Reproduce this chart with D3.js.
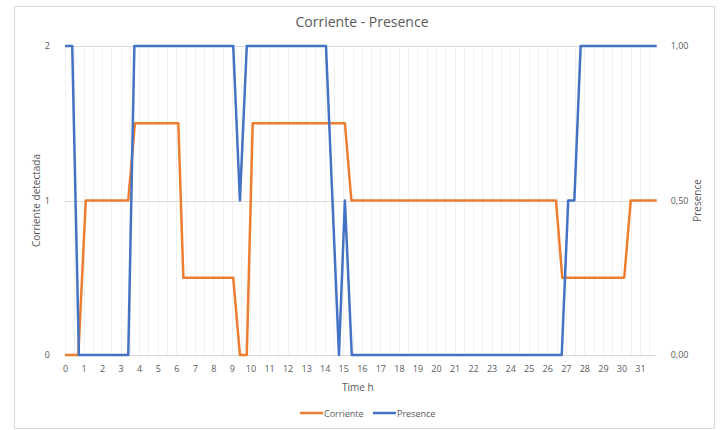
<!DOCTYPE html>
<html>
<head>
<meta charset="utf-8">
<script src="https://cdn.jsdelivr.net/npm/d3@7"></script>
<style>
  html, body { margin: 0; padding: 0; background: #fff; }
  svg { display: block; font-family: "Open Sans", "Liberation Sans", sans-serif; }
</style>
</head>
<body>
<svg id="chart" width="725" height="430"></svg>
<script>
// Corriente detectada (left axis, 0–2) sampled over time in hours
const corrienteTime   = [0, 0.72, 1.12, 3.41, 3.77, 6.11, 6.38, 9.07, 9.43, 9.8, 10.12, 15.09, 15.44, 26.47, 26.81, 30.15, 30.5, 31.9];
const corrienteValues = [0, 0,    1,    1,    1.5,  1.5,  0.5,  0.5,  0,    0,   1.5,   1.5,   1,     1,     0.5,   0.5,   1,    1];

// Presence (right axis, 0–1)
const presenceTime   = [0, 0.39, 0.75, 3.41, 3.74, 9.07, 9.43, 9.8, 14.07, 14.77, 15.09, 15.46, 26.78, 27.13, 27.46, 27.8, 31.9];
const presenceValues = [1, 1,    0,    0,    1,    1,    0.5,  1,   1,     0,     0.5,   0,     0,     0.5,   0.5,   1,    1];

// Axis ticks and labels
const xTickHours   = d3.range(0, 32);
const leftTicks    = [0, 1, 2];
const rightTicks   = [0, 0.5, 1];
const seriesNames  = ["Corriente", "Presence"];
const seriesColors = ["#ED7D31", "#4472C4"];

const svg = d3.select("#chart");
const plot = { left: 65, right: 656.7, top: 46, bottom: 355 };

const x  = d3.scaleLinear().domain([0, 31.9]).range([plot.left, plot.right]);
const yL = d3.scaleLinear().domain([0, 2]).range([plot.bottom, plot.top]);
const yR = d3.scaleLinear().domain([0, 1]).range([plot.bottom, plot.top]);

const textColor = "#595959";

// chart frame
svg.append("rect")
  .attr("x", 14.5).attr("y", 6.5)
  .attr("width", 700).attr("height", 422)
  .attr("fill", "#fff").attr("stroke", "#d9d9d9").attr("stroke-width", 1);

// title
svg.append("text")
  .attr("x", 362).attr("y", 27)
  .attr("text-anchor", "middle")
  .attr("font-size", 14).attr("fill", textColor)
  .text("Corriente - Presence");

// vertical gridlines every half hour
const vGrid = d3.range(0, 32, 0.5);
svg.append("g").selectAll("line").data(vGrid).join("line")
  .attr("x1", d => Math.round(x(d)) + 0.5).attr("x2", d => Math.round(x(d)) + 0.5)
  .attr("y1", plot.top).attr("y2", plot.bottom)
  .attr("stroke", "#f1f1f1").attr("stroke-width", 1);

// horizontal gridlines
svg.append("g").selectAll("line").data(leftTicks).join("line")
  .attr("x1", plot.left).attr("x2", plot.right)
  .attr("y1", d => Math.round(yL(d)) + 0.5).attr("y2", d => Math.round(yL(d)) + 0.5)
  .attr("stroke", "#d9d9d9").attr("stroke-width", 1);

// left axis
const leftAxis = svg.append("g")
  .attr("transform", `translate(${plot.left - 12},0)`)
  .call(d3.axisLeft(yL).tickValues(leftTicks).tickSize(0).tickFormat(d3.format("d")));
leftAxis.select(".domain").remove();
leftAxis.selectAll("text").attr("fill", textColor).attr("font-size", 9)
  .attr("font-family", "Open Sans, sans-serif");

// right axis
const fmtComma = d => d.toFixed(2).replace(".", ",");
const rightAxis = svg.append("g")
  .attr("transform", `translate(${plot.right + 11},0)`)
  .call(d3.axisRight(yR).tickValues(rightTicks).tickSize(0).tickFormat(fmtComma));
rightAxis.select(".domain").remove();
rightAxis.selectAll("text").attr("fill", textColor).attr("font-size", 9)
  .attr("font-family", "Open Sans, sans-serif");

// bottom axis
const bottomAxis = svg.append("g")
  .attr("transform", `translate(0,${plot.bottom + 8})`)
  .call(d3.axisBottom(x).tickValues(xTickHours).tickSize(0).tickFormat(d3.format("d")));
bottomAxis.select(".domain").remove();
bottomAxis.selectAll("text").attr("fill", textColor).attr("font-size", 9)
  .attr("font-family", "Open Sans, sans-serif");

// axis titles
svg.append("text")
  .attr("transform", `translate(40,${(plot.top + plot.bottom) / 2}) rotate(-90)`)
  .attr("text-anchor", "middle").attr("font-size", 10).attr("fill", textColor)
  .text("Corriente detectada");
svg.append("text")
  .attr("transform", `translate(701,${(plot.top + plot.bottom) / 2}) rotate(-90)`)
  .attr("text-anchor", "middle").attr("font-size", 10).attr("fill", textColor)
  .text("Presence");
svg.append("text")
  .attr("x", (plot.left + plot.right) / 2 - 3).attr("y", 391)
  .attr("text-anchor", "middle").attr("font-size", 10).attr("fill", textColor)
  .text("Time h");

// series lines
const corrienteData = corrienteTime.map((t, i) => [t, corrienteValues[i]]);
const presenceData  = presenceTime.map((t, i) => [t, presenceValues[i]]);

const lineL = d3.line().x(d => x(d[0])).y(d => yL(d[1]));
const lineR = d3.line().x(d => x(d[0])).y(d => yR(d[1]));

svg.append("path").datum(corrienteData)
  .attr("d", lineL).attr("fill", "none")
  .attr("stroke", seriesColors[0]).attr("stroke-width", 2.5)
  .attr("stroke-linejoin", "round");
svg.append("path").datum(presenceData)
  .attr("d", lineR).attr("fill", "none")
  .attr("stroke", seriesColors[1]).attr("stroke-width", 2.5)
  .attr("stroke-linejoin", "round");

// legend
const legendX = [300, 373];
const legend = svg.append("g");
seriesNames.forEach((name, i) => {
  legend.append("line")
    .attr("x1", legendX[i]).attr("x2", legendX[i] + 23)
    .attr("y1", 413).attr("y2", 413)
    .attr("stroke", seriesColors[i]).attr("stroke-width", 2.5);
  legend.append("text")
    .attr("x", legendX[i] + 24).attr("y", 416.5)
    .attr("font-size", 9).attr("fill", textColor)
    .text(name);
});
</script>
</body>
</html>
